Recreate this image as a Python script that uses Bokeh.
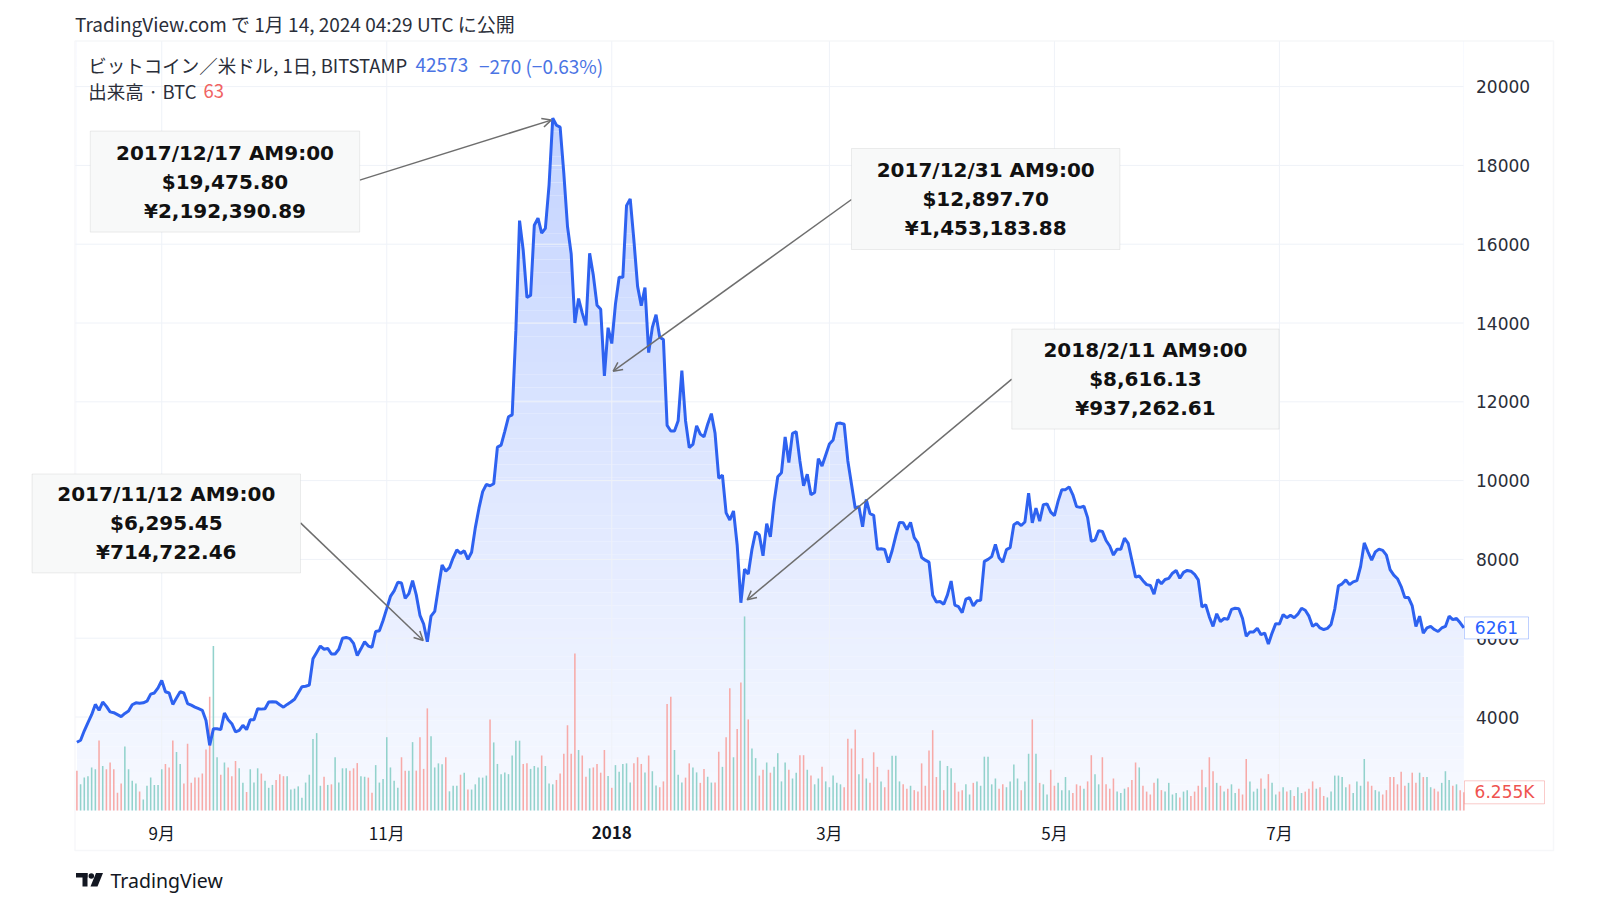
import numpy as np
import pandas as pd
from bokeh.plotting import figure
from bokeh.models import (Range1d, Label, BoxAnnotation, Arrow, OpenHead)
from bokeh.core.properties import value
from bokeh.embed import file_html
from bokeh.resources import INLINE

# ---------------- data (daily BTC/USD close, Bitstamp) -------------
start_date = "2017-08-09"
first_open = 3420
close = [
    3360, 3410, 3650, 3860, 4060, 4320, 4170, 4380, 4270, 4130,
    4110, 4060, 4010, 4090, 4150, 4310, 4360, 4350, 4360, 4400,
    4580, 4610, 4740, 4930, 4640, 4610, 4320, 4480, 4640, 4610,
    4340, 4300, 4250, 4210, 4170, 3910, 3280, 3700, 3700, 3680,
    4100, 3930, 3830, 3620, 3660, 3790, 3680, 3930, 3930, 4210,
    4200, 4210, 4380, 4390, 4380, 4310, 4250, 4320, 4380, 4450,
    4610, 4770, 4780, 4810, 5480, 5640, 5800, 5720, 5740, 5600,
    5600, 5720, 6000, 6020, 5990, 5870, 5560, 5730, 5910, 5800,
    5770, 6170, 6190, 6450, 6750, 7060, 7200, 7420, 7400, 7010,
    7130, 7460, 7100, 6580, 6360, 5910, 6560, 6680, 7280, 7860,
    7700, 7790, 8040, 8240, 8150, 8220, 8000, 8180, 8800, 9300,
    9720, 9900, 9870, 9920, 10850, 10900, 11250, 11620, 11670, 13800,
    16600, 15840, 14650, 14700, 16480, 16660, 16280, 16400, 17500, 19200,
    19020, 18970, 17800, 16450, 15750, 14000, 14620, 14250, 13940, 15770,
    15210, 14450, 14350, 12660, 13880, 13480, 14480, 15160, 15160, 16980,
    17150, 16100, 14930, 14440, 14900, 13250, 13890, 14210, 13640, 13580,
    11400, 11260, 11260, 11520, 12790, 11520, 10840, 10920, 11390, 11180,
    11110, 11430, 11700, 11200, 10060, 10140, 9180, 9000, 9230, 8360,
    6900, 7750, 7630, 8250, 8700, 8620, 8090, 8910, 8570, 9450,
    10100, 10200, 11110, 10460, 11200, 11240, 10500, 9870, 10160, 9640,
    9700, 10560, 10370, 10650, 10930, 11030, 11450, 11460, 11430, 10500,
    9900, 9300, 9340, 8830, 9520, 9160, 9120, 8260, 8270, 8250,
    7920, 8220, 8600, 8940, 8930, 8760, 8940, 8550, 8420, 8050,
    7980, 7930, 7090, 6920, 6930, 6860, 7100, 7450, 6840, 6800,
    6650, 6990, 7030, 6820, 6950, 6960, 7950, 8000, 8070, 8380,
    8040, 7930, 8250, 8300, 8880, 8940, 8860, 8950, 9680, 8930,
    9300, 8970, 9390, 9410, 9200, 9110, 9480, 9770, 9770, 9840,
    9640, 9340, 9320, 9350, 9060, 8460, 8490, 8730, 8710, 8480,
    8340, 8110, 8260, 8260, 8540, 8410, 7980, 7550, 7580, 7460,
    7360, 7340, 7120, 7490, 7380, 7490, 7520, 7650, 7720, 7520,
    7670, 7720, 7700, 7620, 7480, 6790, 6850, 6540, 6300, 6620,
    6420, 6500, 6480, 6730, 6760, 6750, 6500, 6050, 6160, 6160,
    6250, 6090, 6130, 5850, 6130, 6370, 6360, 6600, 6520, 6580,
    6520, 6610, 6760, 6710, 6560, 6300, 6370, 6260, 6220, 6250,
    6350, 6740, 7330, 7380, 7480, 7360, 7430, 7460, 7820, 8420,
    8190, 7980, 8190, 8260, 8230, 8110, 7740, 7600, 7510, 7310,
    7030, 7030, 6820, 6300, 6560, 6130, 6260, 6300, 6220, 6170,
    6260, 6300, 6560, 6470, 6500, 6390, 6261,
]
# daily volume in thousands of BTC
volume_k = [
    13.7, 9.0, 11.3, 11.8, 14.8, 14.2, 24.1, 15.3, 14.2, 16.5,
    14.2, 6.1, 9.3, 22.0, 14.2, 10.2, 9.3, 6.5, 3.8, 8.5,
    11.3, 8.8, 8.8, 14.2, 16.0, 14.8, 24.1, 20.1, 16.0, 9.3,
    22.9, 9.5, 11.3, 11.3, 12.7, 21.0, 39.1, 56.5, 18.3, 12.3,
    16.5, 14.8, 11.8, 17.0, 14.5, 9.5, 6.4, 14.2, 9.6, 14.5,
    12.7, 10.2, 7.8, 8.8, 10.5, 12.5, 11.8, 11.8, 7.2, 7.5,
    8.3, 4.4, 9.6, 12.3, 24.6, 26.6, 8.5, 11.6, 8.8, 9.0,
    18.3, 9.6, 14.5, 14.5, 13.7, 14.5, 16.3, 11.8, 11.6, 11.3,
    6.1, 15.6, 9.6, 10.8, 25.2, 14.8, 10.2, 7.8, 18.3, 13.7,
    13.7, 23.5, 13.7, 25.2, 14.3, 35.1, 25.5, 14.8, 16.2, 15.9,
    18.3, 6.6, 8.5, 8.5, 12.3, 13.0, 7.2, 7.2, 9.0, 11.3,
    11.3, 12.0, 31.3, 23.4, 16.0, 12.5, 13.1, 12.5, 18.9, 24.0,
    24.0, 16.0, 16.2, 14.3, 15.3, 14.8, 18.9, 15.3, 9.3, 9.0,
    10.5, 12.7, 19.5, 29.3, 19.5, 54.0, 20.8, 18.9, 11.6, 14.5,
    14.8, 16.0, 13.0, 20.8, 11.9, 7.8, 15.6, 13.3, 16.0, 16.2,
    9.6, 16.2, 18.3, 16.0, 13.1, 18.9, 13.5, 8.6, 8.0, 10.0,
    36.6, 39.1, 20.8, 12.3, 9.6, 11.3, 16.2, 14.8, 13.1, 9.5,
    14.3, 11.6, 9.6, 9.6, 20.2, 15.0, 25.2, 42.0, 18.3, 28.0,
    44.0, 66.7, 31.3, 21.3, 18.0, 12.0, 14.0, 16.5, 13.0, 15.0,
    19.7, 10.0, 16.5, 14.0, 11.0, 13.0, 19.0, 19.0, 14.0, 12.0,
    9.0, 11.0, 15.0, 10.0, 8.0, 12.0, 9.5, 9.0, 8.0, 24.7,
    21.3, 27.8, 12.5, 18.0, 11.0, 9.5, 20.0, 15.0, 10.0, 8.0,
    14.0, 18.8, 18.8, 10.0, 9.0, 7.5, 8.5, 7.0, 6.5, 16.2,
    8.5, 20.6, 27.6, 11.5, 17.1, 7.0, 15.3, 14.5, 9.5, 6.5,
    7.0, 9.0, 5.5, 9.5, 10.0, 8.5, 18.5, 18.5, 9.0, 11.0,
    7.5, 9.0, 8.0, 10.0, 15.8, 11.0, 7.0, 10.0, 19.5, 31.3,
    19.5, 9.5, 9.0, 5.5, 14.0, 8.5, 9.5, 7.0, 11.5, 7.0,
    6.0, 9.0, 8.5, 7.5, 10.0, 19.0, 12.5, 9.0, 18.3, 9.0,
    7.5, 11.0, 6.5, 6.0, 7.5, 8.0, 10.5, 16.5, 14.8, 8.5,
    6.5, 5.5, 9.5, 11.0, 7.0, 6.5, 9.5, 5.5, 6.0, 4.5,
    6.5, 7.0, 5.0, 6.5, 8.5, 14.0, 8.0, 18.3, 13.5, 9.5,
    8.5, 6.5, 7.5, 9.0, 6.0, 7.5, 5.5, 17.7, 10.0, 6.5,
    7.5, 11.0, 7.5, 12.5, 9.5, 5.5, 6.5, 8.0, 6.5, 7.0,
    5.0, 8.0, 6.0, 6.5, 7.5, 10.0, 7.5, 8.0, 5.0, 4.5,
    6.5, 12.0, 12.0, 11.5, 8.0, 9.0, 6.0, 10.0, 8.5, 17.7,
    10.0, 8.5, 7.0, 6.5, 5.5, 7.0, 11.5, 11.5, 9.0, 13.3,
    8.5, 9.5, 13.0, 9.5, 13.0, 11.5, 11.5, 8.0, 7.5, 6.5,
    9.5, 13.5, 10.5, 8.5, 9.0, 7.0, 6.255,
]
price_ticks = [4000, 6000, 8000, 10000, 12000, 14000, 16000, 18000, 20000]
month_ticks = ["2017-09-01", "2017-11-01", "2018-01-01", "2018-03-01", "2018-05-01", "2018-07-01"]
month_labels = ["9月", "11月", "2018", "3月", "5月", "7月"]
bold_tick_labels = ["2018"]

ann_texts = [
    ["2017/12/17 AM9:00", "$19,475.80", "¥2,192,390.89"],
    ["2017/12/31 AM9:00", "$12,897.70", "¥1,453,183.88"],
    ["2018/2/11 AM9:00", "$8,616.13", "¥937,262.61"],
    ["2017/11/12 AM9:00", "$6,295.45", "¥714,722.46"],
]

header_text = "TradingView.com で 1月 14, 2024 04:29 UTC に公開"
legend_symbol = "ビットコイン／米ドル, 1日, BITSTAMP"
legend_last = "42573"
legend_change = "−270 (−0.63%)"
legend_volume = "出来高 · BTC"
legend_volume_value = "63"
footer_text = "TradingView"

# ---------------- layout geometry (page pixels) ----------------
W, H = 1600, 900
L, R, T, B = 75, 1463, 41, 810          # price pane inside the page
DAY = 86400000
n = min(len(close), len(volume_k))
close = close[:n]
volume_k = volume_k[:n]
dates = pd.date_range(start_date, periods=n, freq="D")
day0 = pd.Timestamp(start_date).value // 10**6
x0 = day0 - 0.38 * DAY                   # data value at pane left
x1 = day0 + 375.9 * DAY                  # data value at pane right
y0, y1 = 1627.0, 21145.0                 # price at pane bottom / top
vol_top = 264.3                          # volume (K) at pane top


def X(px):
    return x0 + (px - L) / (R - L) * (x1 - x0)


def Y(py):
    return y1 - (py - T) / (B - T) * (y1 - y0)


def PY(price):
    return T + (y1 - price) / (y1 - y0) * (B - T)


def blend(alpha, rgb=(41, 98, 255)):
    c = [round(255 - alpha * (255 - v)) for v in rgb]
    return "#%02x%02x%02x" % tuple(c)


p = figure(width=W, height=H, x_axis_type="datetime",
           x_axis_location=None, y_axis_location=None,
           x_range=Range1d(X(0), X(W)), y_range=Range1d(Y(H), Y(0)),
           output_backend="svg", toolbar_location=None,
           min_border_left=0, min_border_right=0, min_border_top=0, min_border_bottom=0,
           background_fill_color="white", border_fill_color="white", outline_line_color=None)
p.grid.visible = False
p.extra_y_ranges = {"vol": Range1d(-(H - B) / (B - T) * vol_top, B / (B - T) * vol_top)}

# gradient area under the price line (bands, then white mask above the line)
nb = 60
edges = np.linspace(y0, y1, nb + 1)
mids = (edges[:-1] + edges[1:]) / 2
band_colors = [blend(0.035 + 0.27 * (m - y0) / (y1 - y0)) for m in mids]
first_ms = dates[0].value // 10**6
last_ms = dates[-1].value // 10**6
p.quad(left=first_ms, right=last_ms, bottom=edges[:-1], top=edges[1:],
       fill_color=band_colors, line_color=None, level="image")
p.varea(x=dates, y1=close, y2=Y(0), fill_color="white", level="image")

# grid lines (from the tick arrays)
month_ms = [pd.Timestamp(m).value // 10**6 for m in month_ticks]
grid_color = "#eff2f8"
p.segment(x0=X(L), x1=X(R), y0=price_ticks, y1=price_ticks, line_color=grid_color,
          line_width=1, level="underlay")
p.segment(x0=month_ms, x1=month_ms, y0=Y(B), y1=Y(T), line_color=grid_color,
          line_width=1, level="underlay")

# volume
prev = [first_open] + close[:-1]
vol_colors = ["#92d2cc" if c >= o else "#f7aaa8" for c, o in zip(close, prev)]
p.vbar(x=dates, top=volume_k, bottom=0, width=0.42 * DAY, fill_color=vol_colors,
       line_color=None, y_range_name="vol")

# price line
p.line(x=dates, y=close, line_color="#2e62f0", line_width=3)

# price scale labels (right)
p.text(x=X(1475.5), y=price_ticks, text=[str(t) for t in price_ticks],
       text_font=value("DejaVu Sans"), text_font_size="17px", text_color="#2a2e39",
       text_align="left", text_baseline="middle")

# time scale labels (bottom)
norm_ms = [ms for ms, lab in zip(month_ms, month_labels) if lab not in bold_tick_labels]
norm_lab = [lab for lab in month_labels if lab not in bold_tick_labels]
bold_ms = [ms for ms, lab in zip(month_ms, month_labels) if lab in bold_tick_labels]
bold_lab = [lab for lab in month_labels if lab in bold_tick_labels]
p.text(x=norm_ms, y=Y(831.5), text=norm_lab, text_font=value("Noto Sans CJK JP"),
       text_font_size="17px", text_color="#131722", text_align="center", text_baseline="middle")
p.text(x=bold_ms, y=Y(831.5), text=bold_lab, text_font=value("Noto Sans CJK JP"),
       text_font_size="17px", text_font_style="bold", text_color="#131722",
       text_align="center", text_baseline="middle")

# chart frame border
p.add_layout(BoxAnnotation(left=X(74.5), right=X(1553), top=Y(40.5), bottom=Y(850),
                           fill_color=None, line_color="#e0e3eb", line_width=1.5))


def add_text(px, py, text, color="#131722", size="17px", font="Noto Sans CJK JP",
             style="normal", align="left"):
    p.add_layout(Label(x=X(px), y=Y(py), text=text, text_font=font, text_font_size=size,
                       text_font_style=style, text_color=color, text_align=align,
                       text_baseline="middle"))


# header / legend / footer texts
add_text(74.5, 22.5, header_text, color="#2a2e39", size="19px")
add_text(87.8, 64.5, legend_symbol, color="#2a2e39", size="18.5px")
add_text(415, 64.5, legend_last, color="#4a74e4", size="19px")
add_text(478.5, 64.5, legend_change, color="#4a74e4", size="19px")
add_text(87.8, 90, legend_volume, color="#2a2e39", size="18.5px")
add_text(203, 90, legend_volume_value, color="#f06363", size="18.5px")
add_text(110, 880, footer_text, color="#131722", size="19.5px", font="Noto Sans")

# TradingView logo mark (simple shapes)
logo_col = "#131722"
p.quad(left=[X(75.5), X(82)], right=[X(87), X(87)], top=[Y(872.5), Y(872.5)],
       bottom=[Y(877), Y(886)], fill_color=logo_col, line_color=None)
p.scatter(x=[X(90.8)], y=[Y(875.5)], size=5.5, fill_color=logo_col, line_color=None)
p.patch(x=[X(95.5), X(102.5), X(97), X(90)], y=[Y(872.5), Y(872.5), Y(886), Y(886)],
        fill_color=logo_col, line_color=None)

# annotation boxes (page px: left, right, top, bottom), arrow start, arrow tip
ann_boxes = [(89.8, 359.2, 130.6, 231.6), (851, 1119.4, 148, 249),
             (1011.3, 1278.6, 328.6, 428.6), (31.6, 300, 473.5, 572.4)]
ann_arrow_start = [(359.2, 179.6), (851, 199), (1011.3, 378.6), (300, 522.4)]
ann_arrow_tip = [(550.7, 119.6), (612.7, 370.7), (746.7, 599.3), (422.7, 640)]

for (l, r, t, b), lines, (sx, sy), (ex, ey) in zip(ann_boxes, ann_texts, ann_arrow_start, ann_arrow_tip):
    p.add_layout(Arrow(end=OpenHead(size=9, line_color="#6e6e6e", line_width=1.5),
                       x_start=X(sx), y_start=Y(sy), x_end=X(ex), y_end=Y(ey),
                       line_color="#6e6e6e", line_width=1.5))
    p.add_layout(BoxAnnotation(left=X(l), right=X(r), top=Y(t), bottom=Y(b),
                               fill_color="#f8f9f9", fill_alpha=1.0,
                               line_color="#c4c4c4", line_width=1))
    cx, cy = (l + r) / 2, (t + b) / 2
    for k, txt in enumerate(lines):
        add_text(cx, cy + (k - 1) * 29, txt, color="#111111", size="20px",
                 font="DejaVu Sans", style="bold", align="center")

# last value tags
py_last = PY(close[-1])
p.add_layout(BoxAnnotation(left=X(1464), right=X(1528), top=Y(py_last - 11), bottom=Y(py_last + 11),
                           fill_color="white", fill_alpha=1.0, line_color="#2962ff", line_width=1))
add_text(1496, py_last, str(close[-1]), color="#2962ff", size="17px", font="DejaVu Sans", align="center")

py_vol = B - volume_k[-1] / vol_top * (B - T)
p.add_layout(BoxAnnotation(left=X(1464), right=X(1544), top=Y(py_vol - 11.5), bottom=Y(py_vol + 11.5),
                           fill_color="white", fill_alpha=1.0, line_color="#ef5350", line_width=1))
add_text(1504, py_vol, f"{volume_k[-1]:.3f}K", color="#ef5350", size="17px", font="DejaVu Sans",
         align="center")

open("out.html", "w").write(file_html(p, INLINE))
